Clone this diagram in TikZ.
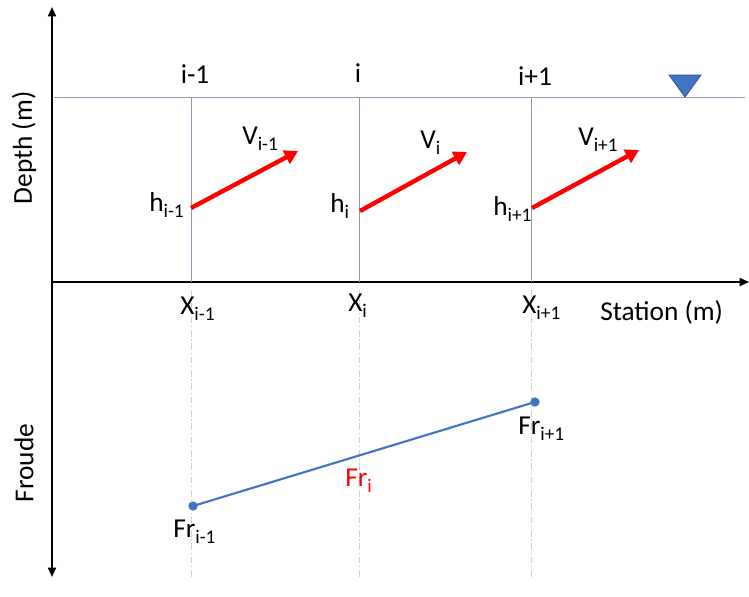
\documentclass[tikz,border=0pt]{standalone}
\usepackage{fontspec}
\setmainfont{Carlito}
\usetikzlibrary{arrows.meta}
\definecolor{gridc}{HTML}{8C9AB4}
\definecolor{bluec}{HTML}{4472C4}
\definecolor{bluedk}{HTML}{2F528F}
\definecolor{dashc}{HTML}{D0D0D0}
\newcommand{\lowsub}[1]{\raisebox{-5pt}{\fontsize{14.5}{14.5}\selectfont #1}}
\tikzset{
  axis/.style={line width=1.3pt,-{Triangle[length=7pt,width=6pt]}},
  gridline/.style={draw=gridc,line width=0.65pt},
  guide/.style={draw=dashc,line width=0.6pt,dash pattern=on 5pt off 2pt on 1pt off 2pt},
  velo/.style={draw=red,line width=3.3pt,-{Triangle[length=10pt,width=11pt]}},
  lbl/.style={inner sep=0pt,anchor=base west,font=\fontsize{20.5}{21}\selectfont},
  toplbl/.style={inner sep=0pt,anchor=base,font=\fontsize{20.5}{21}\selectfont},
  froudeline/.style={draw=bluec,line width=1.6pt},
  dot/.style={circle,fill=bluec,inner sep=0pt,minimum size=7pt}
}
\begin{document}
\begin{tikzpicture}[x=0.75pt,y=-0.75pt]
\useasboundingbox (0,0) rectangle (749,596);
% axes
\coordinate (origin) at (52,282);
\coordinate (ytop) at (52,7);
\coordinate (ybot) at (52,577);
\coordinate (xend) at (749,282);
\draw[axis] (origin) -- (ytop);
\draw[axis] (origin) -- (ybot);
\draw[axis] (origin) -- (xend);
% water line
\coordinate (wl) at (54,97);
\coordinate (wr) at (745,97);
\draw[gridline] (wl) -- (wr);
% station verticals
\coordinate (a1) at (191,97); \coordinate (a2) at (191,282);
\coordinate (b1) at (359,97); \coordinate (b2) at (359,282);
\coordinate (c1) at (531,97); \coordinate (c2) at (531,282);
\draw[gridline] (a1) -- (a2);
\draw[gridline] (b1) -- (b2);
\draw[gridline] (c1) -- (c2);
% guides
\coordinate (ga1) at (191,290); \coordinate (ga2) at (191,578);
\coordinate (gb1) at (359,290); \coordinate (gb2) at (359,578);
\coordinate (gc1) at (531,290); \coordinate (gc2) at (531,578);
\draw[guide] (ga1) -- (ga2);
\draw[guide] (gb1) -- (gb2);
\draw[guide] (gc1) -- (gc2);
% water surface triangle
\coordinate (t1) at (669,75); \coordinate (t2) at (701,75); \coordinate (t3) at (685,97);
\draw[fill=bluec,draw=bluedk,line width=0.6pt] (t1) -- (t2) -- (t3) -- cycle;
% top labels
\node[toplbl] (lim1) at (195,83) {i-1};
\node[toplbl] (li) at (358,82) {i};
\node[toplbl] (lip1) at (535,85) {i+1};
% velocity arrows
\coordinate (va1) at (191,208); \coordinate (va2) at (298,151);
\coordinate (vb1) at (360,211); \coordinate (vb2) at (467,152);
\coordinate (vc1) at (532,208); \coordinate (vc2) at (639,150);
\draw[velo] (va1) -- (va2);
\draw[velo] (vb1) -- (vb2);
\draw[velo] (vc1) -- (vc2);
\node[lbl] (Vim1) at (242,144) {V\lowsub{i-1}};
\node[lbl] (Vi) at (420,148) {V\lowsub{i}};
\node[lbl] (Vip1) at (578,145) {V\lowsub{i+1}};
\node[lbl] (him1) at (149,211) {h\lowsub{i-1}};
\node[lbl] (hi) at (330,212) {h\lowsub{i}};
\node[lbl] (hip1) at (493,215) {h\lowsub{i+1}};
% station labels
\node[lbl] (Xim1) at (180,314) {X\lowsub{i-1}};
\node[lbl] (Xi) at (348,311) {X\lowsub{i}};
\node[lbl] (Xip1) at (522,313) {X\lowsub{i+1}};
\node[lbl] (station) at (600,320) {Station (m)};
% axis titles
\node[inner sep=0pt,rotate=90,font=\fontsize{20.5}{21}\selectfont] (depth) at (24,148) {Depth (m)};
\node[inner sep=0pt,rotate=90,font=\fontsize{20.5}{21}\selectfont] (froude) at (24,463) {Froude};
% Froude line
\node[dot] (p1) at (193,506) {};
\node[dot] (p2) at (535,402) {};
\draw[froudeline] (p1.center) -- (p2.center);
\node[lbl] (frim1) at (173,537) {Fr\lowsub{i-1}};
\node[lbl] (frip1) at (518,434) {Fr\lowsub{i+1}};
\node[lbl,text=red] (fri) at (345,486) {Fr\lowsub{i}};
\end{tikzpicture}
\end{document}
